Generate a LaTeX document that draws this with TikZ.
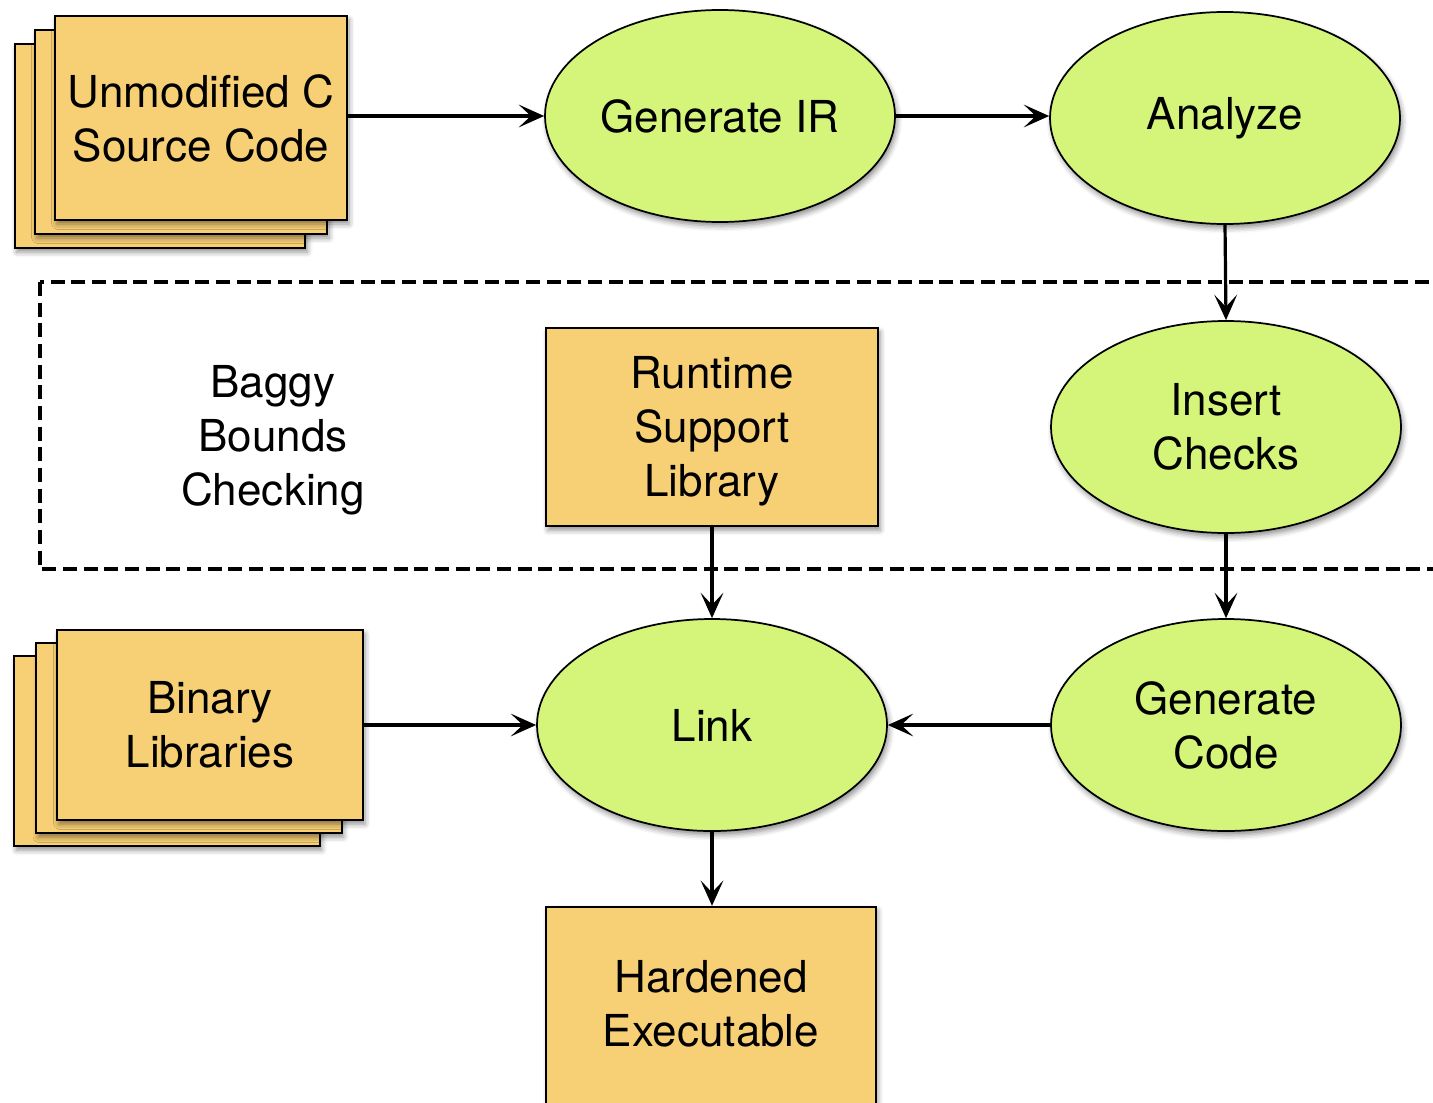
\documentclass[tikz,border=0pt]{standalone}
\usepackage{fontspec}
\setmainfont{TeX Gyre Heros}
\usepackage{tikz}
\usetikzlibrary{arrows.meta}
\usetikzlibrary{shadows.blur}
\usetikzlibrary{shapes}

\definecolor{boxfill}{RGB}{247,207,117}
\definecolor{stepfill}{RGB}{212,245,122}

\tikzset{
  softshadow/.style={blur shadow={shadow xshift=1.5pt, shadow yshift=-3pt, shadow blur radius=4pt, shadow opacity=45}},
  docbox/.style={draw, line width=1.3pt, fill=boxfill, softshadow, align=center, inner sep=0pt,
    font=\fontsize{33}{40.5}\selectfont},
  stage/.style={ellipse, draw, line width=1.3pt, fill=stepfill, softshadow, align=center, inner sep=0pt,
    minimum width=262.5pt, minimum height=159pt, font=\fontsize{33}{40.5}\selectfont},
  flow/.style={-{Stealth[length=19pt, width=17pt, inset=9pt]}, line width=2.4pt},
}

\begin{document}
\begin{tikzpicture}[x=0.75pt,y=0.75pt,yscale=-1,xscale=1]
\useasboundingbox (0,0) rectangle (1433,1102);
\clip (0,0) rectangle (1433,1102);

%Shape: stacked source files
\node [docbox, minimum width=218pt, minimum height=153pt] (srcback) at (160,146) {};
\node [docbox, minimum width=219pt, minimum height=153pt] (srcmid) at (181,132) {};
\node [docbox, minimum width=219pt, minimum height=153pt] (src) at (201,118) {Unmodified C\\Source Code};

%Shape: stacked binary libraries
\node [docbox, minimum width=229pt, minimum height=142.5pt] (libback) at (167,751) {};
\node [docbox, minimum width=229pt, minimum height=142.5pt] (libmid) at (189,738) {};
\node [docbox, minimum width=229.5pt, minimum height=142.5pt] (binlib) at (210,725) {Binary\\Libraries};

%Shape: dashed frame
\draw [line width=2.8pt, dash pattern={on 10.5pt off 5pt}] (40,282) rectangle (1460,569);
\node [align=center, font=\fontsize{33}{40.5}\selectfont] (baggy) at (273,440) {Baggy\\Bounds\\Checking};

%Shape: compiler stages
\node [stage] (genir) at (720,116) {Generate IR};
\node [stage] (analyze) at (1225,118) {Analyze};
\node [stage] (insert) at (1226,427) {Insert\\Checks};
\node [stage] (gencode) at (1226,725) {Generate\\Code};
\node [stage] (link) at (712,725) {Link};

%Shape: runtime and output
\node [docbox, minimum width=249pt, minimum height=148.5pt] (runtime) at (712,427) {};
\node [align=center, font=\fontsize{33}{40.5}\selectfont] (runtext) at (712,431) {Runtime\\Support\\Library};
\node [docbox, minimum width=247pt, minimum height=152pt] (hardened) at (711,1008) {};
\node [align=center, font=\fontsize{33}{40.5}\selectfont] (hardtext) at (711,1004) {Hardened\\Executable};

%Connectors
\draw [flow] (src.east |- genir.west) -- (genir.west);
\draw [flow] (genir.east) -- (analyze.west |- genir.east);
\draw [flow] (analyze.south) -- (insert.north);
\draw [flow] (insert.south) -- (gencode.north);
\draw [flow] (runtime.south) -- (link.north);
\draw [flow] (gencode.west) -- (link.east);
\draw [flow] (binlib.east) -- (link.west);
\draw [flow] (link.south) -- (link.south |- hardened.north);

\end{tikzpicture}
\end{document}
